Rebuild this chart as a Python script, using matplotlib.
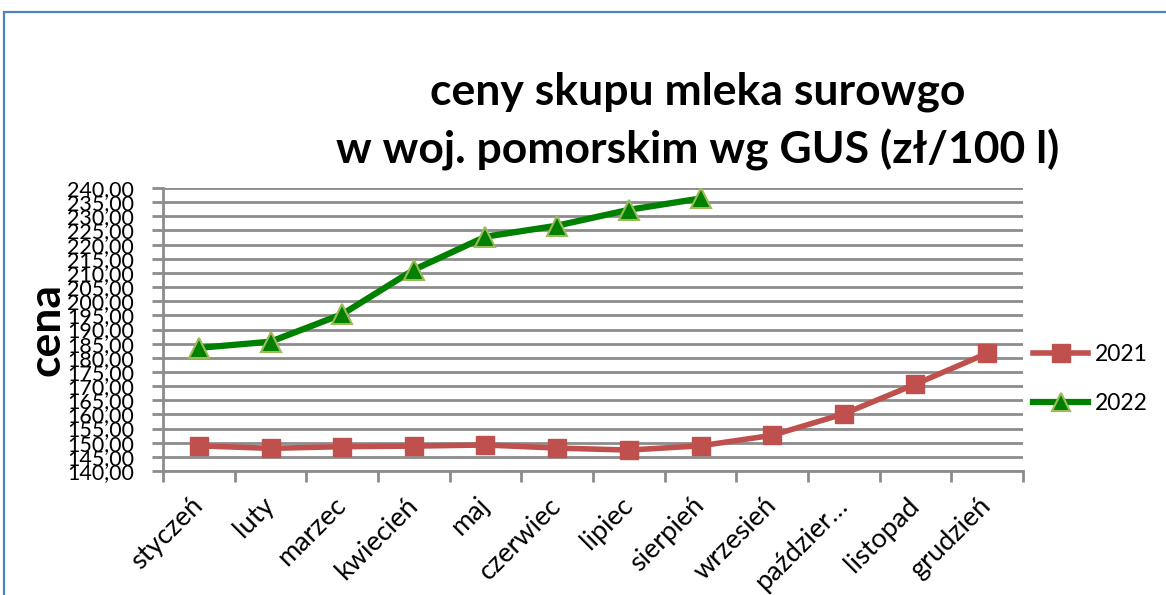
"""Ceny skupu mleka surowego w woj. pomorskim (GUS), 2021 vs 2022"""
import matplotlib
matplotlib.use("Agg")
import matplotlib.pyplot as plt
from matplotlib.patches import Rectangle
from matplotlib.lines import Line2D
import numpy as np

months = ["styczeń", "luty", "marzec", "kwiecień", "maj", "czerwiec",
          "lipiec", "sierpień", "wrzesień", "październik", "listopad", "grudzień"]
month_labels = ["styczeń", "luty", "marzec", "kwiecień", "maj", "czerwiec",
                "lipiec", "sierpień", "wrzesień", "paździer…", "listopad", "grudzień"]
prices_2021 = [148.9, 148.0, 148.6, 148.8, 149.2, 148.1, 147.4, 148.9,
               152.6, 160.2, 170.7, 181.6]
prices_2022 = [183.5, 185.7, 195.4, 211.1, 222.8, 226.7, 232.3, 236.3]
y_ticks = list(range(140, 241, 5))

FONT = ["Lato", "DejaVu Sans"]
plt.rcParams["font.family"] = FONT

RED = "#C0504D"
GREEN = "#008000"
GRID = "#8C8C8C"


def main():
    fig = plt.figure(figsize=(11.66, 5.95), dpi=100)
    W, H = 1166, 595

    # blue chart frame (Excel-like), runs past right/bottom edge
    fig.add_artist(Rectangle((4 / W, -0.1), 1.2, 1 - 12 / H + 0.1,
                             transform=fig.transFigure, fill=False,
                             edgecolor="#4F81BD", linewidth=1.6))

    ax = fig.add_axes([163 / W, 1 - 471 / H, (1023 - 163) / W, (471 - 188) / H])
    x = np.arange(len(months))

    ax.plot(x, prices_2021, color=RED, linewidth=4, marker="s",
            markersize=13, markerfacecolor=RED, markeredgecolor=RED, zorder=3)
    ax.plot(x[:len(prices_2022)], prices_2022, color=GREEN, linewidth=4.5,
            marker="^", markersize=15, markerfacecolor=GREEN,
            markeredgecolor="#9BBB59", markeredgewidth=1.5, zorder=4)

    ax.set_xlim(-0.5, len(months) - 0.5)
    ax.set_ylim(140, 240)
    ax.set_yticks(y_ticks)
    ax.set_yticklabels([f"{v},00" for v in y_ticks], fontsize=15.5)
    ax.yaxis.grid(True, color=GRID, linewidth=2)
    ax.set_axisbelow(True)

    ax.set_xticks(np.arange(-0.5, len(months), 1.0))
    ax.set_xticklabels([])
    ax.set_xticks(x, minor=True)
    ax.set_xticklabels(month_labels, minor=True, rotation=45, ha="right",
                       va="center", rotation_mode="anchor", fontsize=19.5)
    ax.tick_params(axis="x", which="minor", length=0, pad=22)
    ax.tick_params(axis="x", which="major", length=8, width=2, color=GRID)
    ax.tick_params(axis="y", length=8, width=2, color=GRID, pad=13)

    for side in ("top", "right"):
        ax.spines[side].set_visible(False)
    for side in ("left", "bottom"):
        ax.spines[side].set_color(GRID)
        ax.spines[side].set_linewidth(2)

    ax.set_ylabel("cena", fontsize=32, fontweight="bold", labelpad=0)

    fig.text(0.598, 1 - 92 / H, "ceny skupu mleka surowgo", ha="center",
             va="center", fontsize=32, fontweight="bold")
    fig.text(0.598, 1 - 150 / H, "w woj. pomorskim wg GUS (zł/100 l)",
             ha="center", va="center", fontsize=32, fontweight="bold")

    handles = [
        Line2D([], [], color=RED, linewidth=4, marker="s", markersize=13,
               markerfacecolor=RED, markeredgecolor=RED),
        Line2D([], [], color=GREEN, linewidth=4.5, marker="^", markersize=13,
               markerfacecolor=GREEN, markeredgecolor="#9BBB59",
               markeredgewidth=1.5),
    ]
    fig.legend(handles, ["2021", "2022"], loc="center left",
               bbox_to_anchor=(1033 / W, 1 - 379 / H), frameon=False,
               fontsize=16.5, handlelength=2.4, labelspacing=1.25,
               handletextpad=0.3, borderaxespad=0, borderpad=0)

    fig.savefig("out.png", dpi=100)


if __name__ == "__main__":
    main()
